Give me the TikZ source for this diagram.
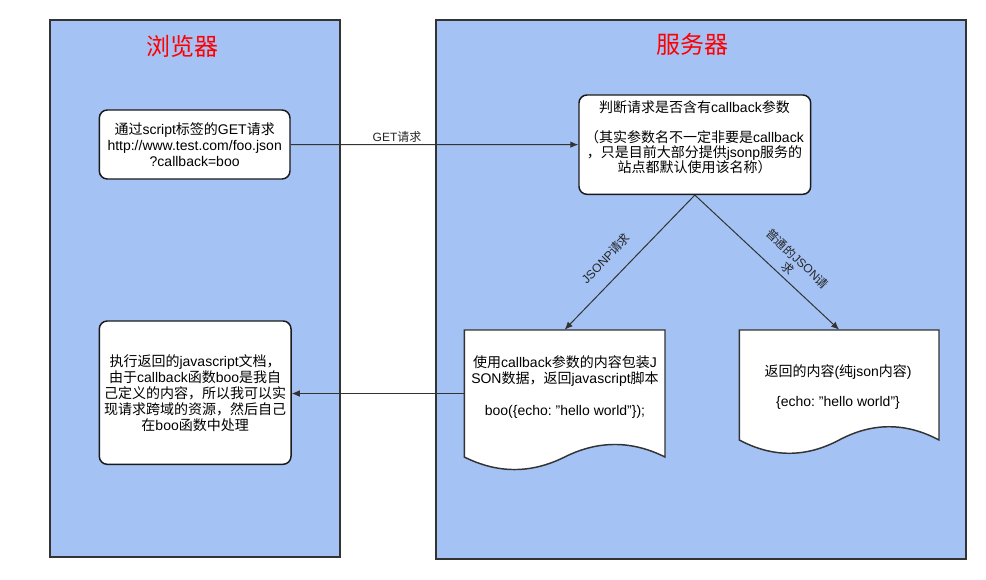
\documentclass[tikz,border=0pt]{standalone}
\usepackage{fontspec}
\setmainfont{Liberation Sans}
\newfontfamily\cjk{Noto Sans CJK SC}
\newcommand\C[1]{{\cjk #1}}
\usetikzlibrary{arrows.meta}
\definecolor{panel}{HTML}{A4C2F4}
\definecolor{edge}{HTML}{333333}
\frenchspacing
\begin{document}
\begin{tikzpicture}[x=0.75pt,y=-0.75pt,
  panelbox/.style={draw=edge, line width=1.5pt, fill=panel, inner sep=0pt},
  titletext/.style={text=red, font=\fontsize{18}{20}\selectfont, inner sep=0pt},
  roundbox/.style={draw=black!90, line width=1.1pt, fill=white, rounded corners=6pt,
    align=center, inner sep=0pt, font=\fontsize{10.5}{12}\selectfont},
  docanchor/.style={inner sep=0pt},
  docline/.style={draw=edge, line width=1.1pt, fill=white},
  bodytext/.style={align=center, inner sep=0pt, font=\fontsize{10.5}{12}\selectfont},
  lbl/.style={text=black!85, inner sep=0pt, font=\fontsize{9}{10}\selectfont},
  arr/.style={draw=black!80, line width=0.75pt, -{Latex[length=6pt,width=5pt]}}]
\fill[white] (0,0) rectangle (986,579);
\useasboundingbox (0,0) rectangle (986,579);

% containers
\node[panelbox, minimum width=217.5pt, minimum height=402.4pt] (browser) at (195,288.75) {};
\node[panelbox, minimum width=397.5pt, minimum height=404.25pt] (server) at (701,289.5) {};
\node[titletext] (browsertitle) at (182,46.5) {\C{浏览器}};
\node[titletext] (servertitle) at (692,44.2) {\C{服务器}};

% browser boxes
\node[roundbox, minimum width=143pt, minimum height=51.75pt] (req) at (194.65,144.5)
  {\C{通过}script\C{标签的}GET\C{请求}\\http://www.test.com/foo.json\\?callback=boo};
\node[roundbox, minimum width=143.8pt, minimum height=107.5pt] (result) at (195.15,392.65)
  {\C{执行返回的}javascript\C{文档，}\\\C{由于}callback\C{函数}boo\C{是我自}\\\C{己定义的内容，所以我可以实}\\\C{现请求跨域的资源，然后自己}\\\C{在}boo\C{函数中处理}};

% server decision box
\node[roundbox, minimum width=173.8pt, minimum height=74.5pt] (check) at (694.85,144.65) {};
\node[bodytext, font=\fontsize{10.5}{11.25}\selectfont] (checktext) at (694.5,137.5)
  {\C{判断请求是否含有}callback\C{参数}\\[11.25pt]\C{（其实参数名不一定非要是}callback\\\C{，只是目前大部分提供}jsonp\C{服务的}\\\C{站点都默认使用该名称）}};

% document shapes
\node[docanchor, minimum width=150.5pt, minimum height=95.25pt] (jsonp) at (564.65,393.5) {};
\draw[docline] (464.3,457) -- (464.3,330) -- (665,330) -- (665,457)
  .. controls (631.5,440.3) and (598.1,440.3) .. (564.65,457)
  .. controls (531.2,473.7) and (497.8,473.7) .. (464.3,457) -- cycle;
\node[bodytext] (jsonptext) at (565,387)
  {\C{使用}callback\C{参数的内容包装}J\\SON\C{数据，返回}javascript\C{脚本}\\[12pt]boo(\{echo: "hello world"\});};

\node[docanchor, minimum width=149.8pt, minimum height=82.5pt] (json) at (839.15,385) {};
\draw[docline] (739.3,440) -- (739.3,330) -- (939,330) -- (939,440)
  .. controls (905.7,422.3) and (872.4,422.3) .. (839.15,440)
  .. controls (805.9,457.7) and (772.6,457.7) .. (739.3,440) -- cycle;
\node[bodytext] (jsontext) at (838,386.7)
  {\C{返回的内容}(\C{纯}json\C{内容})\\[10.5pt]\{echo: "hello world"\}};

% connectors
\draw[arr] (req) -- (check);
\draw[arr] (check.south) -- (jsonp.north);
\draw[arr] (check.south) -- (json.north);
\draw[arr] (jsonp.west) -- (jsonp.west -| result.east);

% labels
\node[lbl] (getlbl) at (397,136.5) {GET\C{请求}};
\node[lbl, rotate=46] (jsonplbl) at (605.8,258.3) {JSONP\C{请求}};
\node[lbl, rotate=-43, align=center] (jsonlbl) at (793,263.5) {\C{普通的}JSON\C{请}\\\C{求}};
\end{tikzpicture}
\end{document}
